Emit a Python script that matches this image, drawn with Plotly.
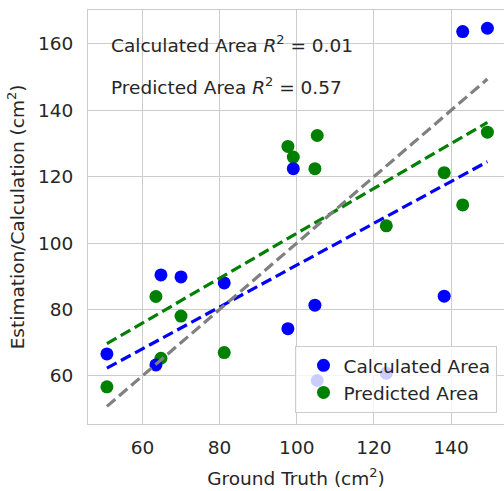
import numpy as np
import plotly.graph_objects as go

# ---- data ----
ground_truth = [50.8, 63.5, 64.8, 70.0, 81.2, 97.7, 99.1, 104.7, 105.3, 123.2, 138.2, 143.0, 149.4]
calculated_area = [66.6, 63.3, 90.4, 89.8, 88.0, 74.2, 122.4, 81.3, 58.6, 60.8, 84.0, 163.7, 164.7]
predicted_area = [56.7, 83.9, 65.3, 78.0, 67.0, 129.1, 125.9, 122.4, 132.4, 105.2, 121.2, 111.5, 133.4]
r2_calculated = "0.01"
r2_predicted = "0.57"
x_ticks = [60, 80, 100, 120, 140]
y_ticks = [60, 80, 100, 120, 140, 160]

TEXT = "#262626"
GRID = "#cccccc"
FONT = "DejaVu Sans"
FS = 18.5

gt = np.array(ground_truth)
xs = np.array([gt.min(), gt.max()])

fig = go.Figure()

fig.add_trace(go.Scatter(x=ground_truth, y=predicted_area, mode="markers",
                         name="Predicted Area", legendrank=2,
                         marker=dict(color="green", size=13)))
fig.add_trace(go.Scatter(x=ground_truth, y=calculated_area, mode="markers",
                         name="Calculated Area", legendrank=1,
                         marker=dict(color="blue", size=13)))

# regression lines
for vals, col in [(calculated_area, "blue"), (predicted_area, "green")]:
    m, b = np.polyfit(gt, np.array(vals), 1)
    fig.add_trace(go.Scatter(x=xs, y=m * xs + b, mode="lines", showlegend=False,
                             line=dict(color=col, width=3.2, dash="11px,5px")))
# identity line
fig.add_trace(go.Scatter(x=xs, y=xs, mode="lines", showlegend=False,
                         line=dict(color="gray", width=3.2, dash="11px,5px")))

fig.add_annotation(xref="paper", yref="paper", x=0.05, y=0.917, xanchor="left", yanchor="middle",
                   text=f"Calculated Area <i>R</i><sup>2</sup> = {r2_calculated}", showarrow=False,
                   font=dict(family=FONT, size=FS, color=TEXT))
fig.add_annotation(xref="paper", yref="paper", x=0.05, y=0.817, xanchor="left", yanchor="middle",
                   text=f"Predicted Area <i>R</i><sup>2</sup> = {r2_predicted}", showarrow=False,
                   font=dict(family=FONT, size=FS, color=TEXT))

fig.update_layout(
    width=504, height=491,
    margin=dict(l=88, r=0, t=10, b=67),
    paper_bgcolor="white", plot_bgcolor="white",
    font=dict(family=FONT, size=FS, color=TEXT),
    showlegend=True,
    legend=dict(x=0.982, y=0.027, xanchor="right", yanchor="bottom",
                bgcolor="rgba(255,255,255,0.8)", bordercolor=GRID, borderwidth=1,
                font=dict(family=FONT, size=FS, color=TEXT), itemwidth=30,
                indentation=8),
    xaxis=dict(range=[45.9, 153.7], tickvals=x_ticks, showgrid=True, gridcolor=GRID, gridwidth=1,
               zeroline=False, showline=True, linecolor=GRID, linewidth=1, mirror=True,
               ticks="", ticklabelstandoff=7,
               title=dict(text="Ground Truth (cm<sup>2</sup>)", font=dict(size=FS), standoff=14)),
    yaxis=dict(range=[45.5, 170.2], tickvals=y_ticks, showgrid=True, gridcolor=GRID, gridwidth=1,
               zeroline=False, showline=True, linecolor=GRID, linewidth=1, mirror=True,
               ticks="", ticklabelstandoff=10,
               title=dict(text="Estimation/Calculation (cm<sup>2</sup>)", font=dict(size=FS), standoff=8)),
)

fig.write_html("out.html")
